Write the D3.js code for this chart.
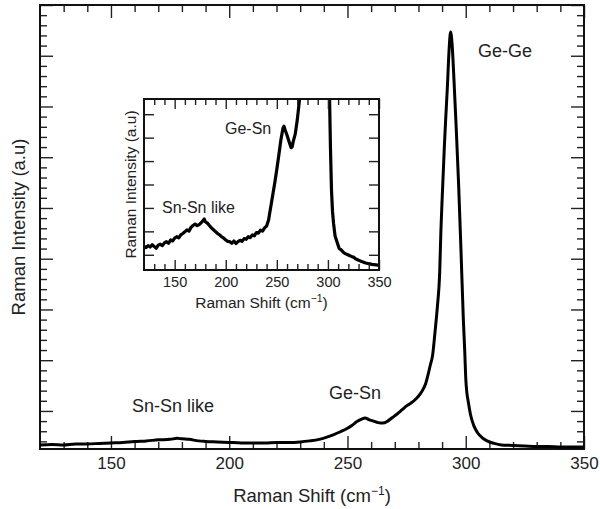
<!DOCTYPE html>
<html>
<head>
<meta charset="utf-8">
<script src="https://cdn.jsdelivr.net/npm/d3@7"></script>
<style>
  body { margin: 0; background: #fff; }
  svg { display: block; font-family: "Liberation Sans", Arial, Helvetica, sans-serif; }
  .tick text { fill: #222; }
</style>
</head>
<body>
<div id="io"></div>
<script>
// main spectrum: Raman shift (cm-1) and intensity (a.u.)
const MAIN_SHIFT = [120, 125, 130, 135, 140, 145, 150, 155, 160, 165, 170, 175, 178, 180, 183, 187, 190, 195,
  200, 205, 210, 215, 220, 225, 230, 234, 238, 241, 244, 247, 250, 252, 254, 256, 257.5, 259, 261, 263, 265,
  267, 269, 271, 273, 275, 277, 279, 281, 282, 283, 284, 285, 286, 287, 288, 289, 289.5, 290, 290.5, 291,
  291.5, 292.2, 293, 293.6, 294.2, 295, 296, 297, 298, 299, 299.6, 300, 300.5, 301, 302, 303.5, 305, 307,
  309, 312, 315, 320, 325, 330, 335, 340, 345, 350];
const MAIN_INTENSITY = [8, 9, 8, 10, 10, 11, 12, 13, 15, 16, 18, 19, 21, 20, 19, 16, 15, 14,
  13, 12, 12, 12, 13, 13, 14, 16, 19, 23, 28, 34, 41, 47, 54, 59, 61, 58, 55, 52, 51,
  55, 62, 69, 77, 85, 91, 99, 110, 118, 128, 145, 165, 185, 230, 280, 350, 430, 490, 545, 600,
  648, 710, 790, 822, 800, 730, 630, 520, 390, 254, 190, 140, 110, 95, 68, 45, 32, 22,
  16, 11, 8, 7, 6, 5, 5, 4, 4, 4];

// inset spectrum (zoomed, clipped at top)
const INSET_SHIFT = [120, 122, 124, 126, 128, 130, 132, 134, 136, 138, 140, 142, 144, 146, 148, 150, 152, 154,
  156, 158, 160, 162, 164, 166, 168, 170, 172, 174, 176, 178, 179, 180, 182, 184, 186, 188, 190, 192, 194,
  196, 198, 200, 202, 204, 206, 208, 210, 212, 214, 216, 218, 220, 222, 224, 226, 228, 230, 232, 234, 236,
  238, 240, 242, 243, 244, 246, 248, 250, 252, 254, 256, 257, 258, 260, 262, 264, 265, 266, 268, 270, 272,
  274, 278, 284, 290, 294, 298, 300.5, 301.5, 302.5, 303.5, 304.5, 305.5, 307, 309, 311, 313, 315, 317,
  319, 321, 323, 325, 327, 329, 331, 333, 335, 337, 339, 341, 343, 345, 347, 349, 350];
const INSET_INTENSITY = [100, 96, 104, 98, 108, 100, 93, 106, 110, 104, 116, 121, 114, 128, 124, 136, 142, 137,
  150, 156, 163, 171, 166, 182, 190, 196, 189, 194, 202, 212, 218, 206, 200, 190, 180, 172, 164, 156, 150,
  142, 136, 128, 122, 121, 114, 124, 113, 121, 127, 122, 134, 131, 142, 138, 150, 146, 160, 157, 170, 166,
  180, 188, 215, 242, 268, 320, 372, 430, 492, 556, 605, 614, 600, 575, 548, 522, 525, 548, 580, 640, 720,
  820, 1100, 1800, 3000, 4000, 2500, 1200, 760, 520, 340, 250, 200, 145, 118, 92, 86, 76, 70,
  66, 62, 58, 55, 48, 44, 40, 36, 33, 30, 28, 26, 24, 23, 22, 21, 20];

const X_MAJOR = [150, 200, 250, 300, 350];
const X_MINOR = [130, 140, 160, 170, 180, 190, 210, 220, 230, 240, 260, 270, 280, 290, 310, 320, 330, 340];
const MAIN_Y_MAJOR = [75, 175, 275, 375, 475, 575, 675, 775, 875];
const INSET_Y_MAJOR = [65, 165, 265, 365, 465, 565, 665];

const W = 600, H = 509;
const svg = d3.select('#io').append('svg').attr('width', W).attr('height', H);

// ---------- main plot ----------
const xScale = d3.scaleLinear().domain([120, 350]).range([40, 584]);
const yScale = d3.scaleLinear().domain([0, 875]).range([449, 5]);

const mainMinorY = d3.range(15, 876, 20).filter(v => !MAIN_Y_MAJOR.includes(v));

function ticks(g, axisFn, scale, values, size, labels) {
  const ax = axisFn(scale).tickValues(values).tickSizeInner(-size).tickSizeOuter(0).tickPadding(8);
  if (!labels) ax.tickFormat('');
  g.call(ax);
  g.select('.domain').remove();
  g.selectAll('.tick line').attr('stroke', '#222').attr('stroke-width', 1.4);
}

const main = svg.append('g');
ticks(main.append('g').attr('transform', 'translate(0,449)'), d3.axisBottom, xScale, X_MINOR, 7, false);
ticks(main.append('g').attr('transform', 'translate(0,449)').attr('class', 'xlab'), d3.axisBottom, xScale, X_MAJOR, 13, true);
ticks(main.append('g').attr('transform', 'translate(0,5)'), d3.axisTop, xScale, X_MINOR, 7, false);
ticks(main.append('g').attr('transform', 'translate(0,5)'), d3.axisTop, xScale, X_MAJOR, 13, false);
ticks(main.append('g').attr('transform', 'translate(40,0)'), d3.axisLeft, yScale, mainMinorY, 7, false);
ticks(main.append('g').attr('transform', 'translate(40,0)'), d3.axisLeft, yScale, MAIN_Y_MAJOR, 13, false);
ticks(main.append('g').attr('transform', 'translate(584,0)'), d3.axisRight, yScale, mainMinorY, 7, false);
ticks(main.append('g').attr('transform', 'translate(584,0)'), d3.axisRight, yScale, MAIN_Y_MAJOR, 13, false);
main.selectAll('.xlab text').style('font-size', '17px');

main.append('rect').attr('x', 40).attr('y', 5).attr('width', 544).attr('height', 444)
  .attr('fill', 'none').attr('stroke', '#111').attr('stroke-width', 2);

const mainLine = d3.line().x((d, i) => xScale(MAIN_SHIFT[i])).y(d => yScale(d)).curve(d3.curveMonotoneX);
main.append('path').datum(MAIN_INTENSITY).attr('d', mainLine)
  .attr('fill', 'none').attr('stroke', '#000').attr('stroke-width', 3).attr('stroke-linejoin', 'round');

const xt = main.append('text').attr('x', 312).attr('y', 502).attr('text-anchor', 'middle')
  .style('font-size', '18.5px').attr('fill', '#222');
xt.append('tspan').text('Raman Shift (cm');
xt.append('tspan').text('\u22121').attr('dy', -7).style('font-size', '12px');
xt.append('tspan').text(')').attr('dy', 7);

main.append('text').attr('transform', 'translate(25,227) rotate(-90)').attr('text-anchor', 'middle')
  .style('font-size', '18.5px').attr('fill', '#222').text('Raman Intensity (a.u)');

main.append('text').attr('x', 478).attr('y', 57).style('font-size', '18px').attr('fill', '#222').text('Ge-Ge');
main.append('text').attr('x', 132).attr('y', 412).style('font-size', '18px').attr('fill', '#222').text('Sn-Sn like');
main.append('text').attr('x', 329).attr('y', 399).style('font-size', '18px').attr('fill', '#222').text('Ge-Sn');

// ---------- inset ----------
const ixScale = d3.scaleLinear().domain([120, 350]).range([144, 379]);
const iyScale = d3.scaleLinear().domain([0, 730]).range([270, 99]);

const inset = svg.append('g');
inset.append('rect').attr('x', 144).attr('y', 99).attr('width', 235).attr('height', 171).attr('fill', '#fff');

svg.append('clipPath').attr('id', 'insetClip').append('rect')
  .attr('x', 144).attr('y', 99).attr('width', 235).attr('height', 171);

const insetLine = d3.line().x((d, i) => ixScale(INSET_SHIFT[i])).y(d => iyScale(d));
inset.append('path').datum(INSET_INTENSITY).attr('d', insetLine).attr('clip-path', 'url(#insetClip)')
  .attr('fill', 'none').attr('stroke', '#000').attr('stroke-width', 3.2).attr('stroke-linejoin', 'round');

ticks(inset.append('g').attr('transform', 'translate(0,270)'), d3.axisBottom, ixScale, X_MINOR, 6, false);
ticks(inset.append('g').attr('transform', 'translate(0,270)').attr('class', 'ixlab'), d3.axisBottom, ixScale, X_MAJOR, 10, true);
ticks(inset.append('g').attr('transform', 'translate(0,99)'), d3.axisTop, ixScale, X_MINOR, 6, false);
ticks(inset.append('g').attr('transform', 'translate(0,99)'), d3.axisTop, ixScale, X_MAJOR, 10, false);
ticks(inset.append('g').attr('transform', 'translate(144,0)'), d3.axisLeft, iyScale, INSET_Y_MAJOR, 10, false);
ticks(inset.append('g').attr('transform', 'translate(379,0)'), d3.axisRight, iyScale, INSET_Y_MAJOR, 10, false);
inset.selectAll('.ixlab text').style('font-size', '14.5px').attr('dy', '0.6em');

inset.append('rect').attr('x', 144).attr('y', 99).attr('width', 235).attr('height', 171)
  .attr('fill', 'none').attr('stroke', '#111').attr('stroke-width', 2);

const it = inset.append('text').attr('x', 261.5).attr('y', 308).attr('text-anchor', 'middle')
  .style('font-size', '15.5px').attr('fill', '#222');
it.append('tspan').text('Raman Shift (cm');
it.append('tspan').text('\u22121').attr('dy', -6).style('font-size', '10.5px');
it.append('tspan').text(')').attr('dy', 6);

inset.append('text').attr('transform', 'translate(136,184.5) rotate(-90)').attr('text-anchor', 'middle')
  .style('font-size', '15.5px').attr('fill', '#222').text('Raman Intensity (a.u)');

inset.append('text').attr('x', 225).attr('y', 134).style('font-size', '16px').attr('fill', '#222').text('Ge-Sn');
inset.append('text').attr('x', 162).attr('y', 213).style('font-size', '16px').attr('fill', '#222').text('Sn-Sn like');
</script>
</body>
</html>
